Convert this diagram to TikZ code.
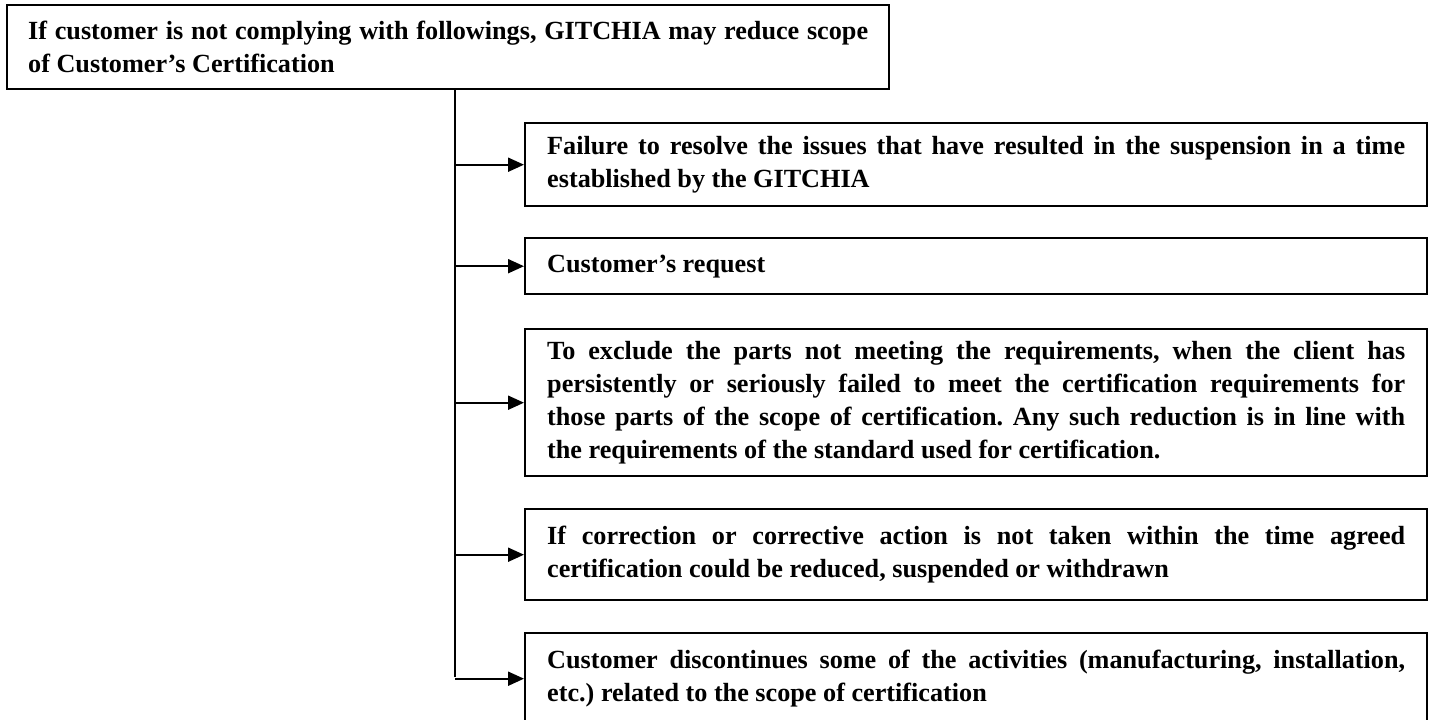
\documentclass[tikz,border=0pt]{standalone}
\usepackage{fontspec}
\setmainfont{Liberation Serif}
\usetikzlibrary{positioning, arrows.meta}
\frenchspacing

\begin{document}
\begin{tikzpicture}[x=1pt, y=-1pt,
	box/.style={draw, line width=2.4pt, anchor=north west, align=justify,
		text width=858pt, inner xsep=22pt, inner ysep=0pt,
		font=\fontsize{26.2pt}{33pt}\selectfont\bfseries},
	feed/.style={line width=2pt, -{Triangle[length=16pt, width=14pt]}}]
	\useasboundingbox (0, 0) rectangle (1430, 720);
	
	% Main condition
	\node[box, text width=840pt, inner xsep=21pt, minimum height=84pt] (cond) at (6, 4)
	{If customer is not complying with followings, GITCHIA may reduce scope\linebreak of Customer's Certification};
	
	% Reasons
	\node[box, minimum height=83pt] (fail) at (524, 122)
	{Failure to resolve the issues that have resulted in the suspension in a time\linebreak established by the GITCHIA};
	\node[box, minimum height=56pt] (request) at (524, 237) {Customer's request};
	\node[box, minimum height=147pt] (exclude) at (524, 328)
	{To exclude the parts not meeting the requirements, when the client has\linebreak persistently or seriously failed to meet the certification requirements for\linebreak those parts of the scope of certification. Any such reduction is in line with\linebreak the requirements of the standard used for certification.};
	\node[box, minimum height=91pt] (action) at (524, 508)
	{If correction or corrective action is not taken within the time agreed\linebreak certification could be reduced, suspended or withdrawn};
	\node[box, minimum height=91pt] (discont) at (524, 632)
	{Customer discontinues some of the activities (manufacturing, installation,\linebreak etc.) related to the scope of certification};
	
	% Trunk and feeds
	\coordinate (trunk) at (455, 677);
	\draw[line width=2pt] (cond.south -| trunk) -- (trunk);
	\foreach \n in {fail, request, exclude, action, discont}
		\draw[feed] (\n.west -| trunk) -- (\n.west);
\end{tikzpicture}
\end{document}
